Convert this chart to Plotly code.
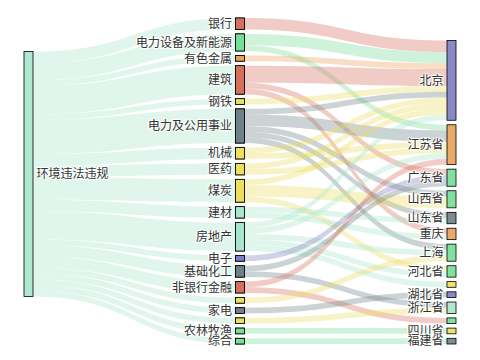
import plotly.graph_objects as go

# ---- data ----
root = "环境违法违规"
industries = ["银行", "电力设备及新能源", "有色金属", "建筑", "钢铁", "电力及公用事业",
              "机械", "医药", "煤炭", "建材", "房地产", "电子", "基础化工", "非银行金融",
              "_y1", "家电", "_y2", "农林牧渔", "综合"]
provinces = ["北京", "江苏省", "广东省", "山西省", "山东省", "重庆", "上海", "河北省",
             "_yR", "湖北省", "浙江省", "_gR", "四川省", "福建省"]

# industry -> province flows
flow_src = ["银行", "电力设备及新能源", "电力设备及新能源", "有色金属",
            "建筑", "建筑", "建筑", "钢铁",
            "电力及公用事业", "电力及公用事业", "电力及公用事业", "电力及公用事业", "电力及公用事业",
            "机械", "机械", "医药", "医药",
            "煤炭", "煤炭", "煤炭",
            "建材", "建材",
            "房地产", "房地产", "房地产", "房地产", "房地产",
            "电子", "基础化工", "基础化工", "非银行金融", "非银行金融",
            "_y1", "家电", "_y2", "农林牧渔", "综合"]
flow_tgt = ["北京", "北京", "江苏省", "北京",
            "北京", "广东省", "重庆", "北京",
            "北京", "江苏省", "山西省", "山东省", "上海",
            "北京", "江苏省", "北京", "江苏省",
            "北京", "山西省", "河北省",
            "山东省", "重庆",
            "北京", "江苏省", "上海", "河北省", "_yR",
            "广东省", "广东省", "浙江省", "江苏省", "_gR",
            "上海", "湖北省", "浙江省", "四川省", "福建省"]
flow_val = [2, 2, 1, 1,
            3, 1, 1, 1,
            1, 2, 1, 1, 1,
            1, 1, 1, 1,
            1, 2, 1,
            1, 1,
            1, 1, 1, 1, 1,
            1, 1, 1, 1, 1,
            1, 1, 1, 1, 1]

palette = {
    "red": (214, 110, 92),
    "green": (118, 222, 150),
    "orange": (232, 160, 88),
    "yellow": (236, 222, 92),
    "gray": (110, 128, 134),
    "teal": (166, 228, 204),
    "purple": (124, 124, 192),
}
node_color_names = {
    root: "teal",
    "银行": "red", "电力设备及新能源": "green", "有色金属": "orange", "建筑": "red",
    "钢铁": "yellow", "电力及公用事业": "gray", "机械": "yellow", "医药": "yellow",
    "煤炭": "yellow", "建材": "teal", "房地产": "teal", "电子": "purple",
    "基础化工": "gray", "非银行金融": "red", "_y1": "yellow", "家电": "gray",
    "_y2": "yellow", "农林牧渔": "green", "综合": "green",
    "北京": "purple", "江苏省": "orange", "广东省": "green", "山西省": "green",
    "山东省": "gray", "重庆": "orange", "上海": "green", "河北省": "green",
    "_yR": "yellow", "湖北省": "purple", "浙江省": "teal", "_gR": "green",
    "四川省": "yellow", "福建省": "gray",
}

# ---- layout settings ----
FIG_W, FIG_H = 480, 360
M_L, M_R, M_T, M_B = 16, 32, 10, 24
PAD, THICK = 4.5, 9


def rgba(name, a):
    r, g, b = palette[name]
    return f"rgba({r},{g},{b},{a})"


def label_of(n):
    return "" if n.startswith("_") else n


ind_total = {n: 0 for n in industries}
prov_total = {n: 0 for n in provinces}
for s, t, v in zip(flow_src, flow_tgt, flow_val):
    ind_total[s] += v
    prov_total[t] += v

W = FIG_W - M_L - M_R
H = FIG_H - M_T - M_B
total = sum(flow_val)
ky = min((H - (len(col) - 1) * PAD) / total for col in (industries, provinces))

# vertical positions (centres, px) derived from the values, keeping listed order
pos_y = {}
y = 0.0
for n in industries:
    h = ind_total[n] * ky
    pos_y[n] = y + h / 2
    y += h + PAD
span = sum(prov_total.values()) * ky + (len(provinces) - 1) * PAD
y = H - span
for n in provinces:
    h = prov_total[n] * ky
    pos_y[n] = y + h / 2
    y += h + PAD
pos_y[root] = sum(pos_y[n] * ind_total[n] for n in industries) / total

# two stages sharing the middle column
half = 0.5 + (THICK / 2) / W
dom_a = [0.0, half]
dom_b = [1.0 - half, 1.0]
wa = W * (dom_a[1] - dom_a[0])
wb = W * (dom_b[1] - dom_b[0])

node_style = dict(pad=PAD, thickness=THICK)
font = dict(family="Noto Sans CJK SC", size=12, color="#333")

# stage A: root -> industries
a_nodes = [root] + industries
a_idx = {n: i for i, n in enumerate(a_nodes)}
a_src = [a_idx[root]] * len(industries)
a_tgt = [a_idx[n] for n in industries]
a_val = [ind_total[n] for n in industries]
a_col = [rgba(node_color_names[root], 0.35)] * len(industries)
a_x = [(THICK / 2) / wa] + [1 - (THICK / 2) / wa] * len(industries)
a_y = [pos_y[n] / H for n in a_nodes]

# stage B: industries -> provinces
b_nodes = industries + provinces
b_idx = {n: i for i, n in enumerate(b_nodes)}
b_src = [b_idx[s] for s in flow_src]
b_tgt = [b_idx[t] for t in flow_tgt]
b_col = [rgba(node_color_names[s], 0.35) for s in flow_src]
b_x = [(THICK / 2) / wb] * len(industries) + [1 - (THICK / 2) / wb] * len(provinces)
b_y = [pos_y[n] / H for n in b_nodes]
b_labels = [""] * len(industries) + [label_of(n) for n in provinces]

fig = go.Figure()
fig.add_trace(go.Sankey(
    domain=dict(x=dom_a, y=[0, 1]),
    arrangement="fixed",
    node=dict(label=[label_of(n) for n in a_nodes],
              color=[rgba(node_color_names[n], 0.9) for n in a_nodes],
              line=dict(color=[rgba(node_color_names[n], 1.0) for n in a_nodes], width=0.8),
              x=a_x, y=a_y, **node_style),
    link=dict(source=a_src, target=a_tgt, value=a_val, color=a_col),
    textfont=font,
))
fig.add_trace(go.Sankey(
    domain=dict(x=dom_b, y=[0, 1]),
    arrangement="fixed",
    node=dict(label=b_labels,
              color=[rgba(node_color_names[n], 0.9) for n in b_nodes],
              line=dict(color=[rgba(node_color_names[n], 1.0) for n in b_nodes], width=0.8),
              x=b_x, y=b_y, **node_style),
    link=dict(source=b_src, target=b_tgt, value=flow_val, color=b_col),
    textfont=font,
))
fig.update_layout(width=FIG_W, height=FIG_H,
                  margin=dict(l=M_L, r=M_R, t=M_T, b=M_B),
                  paper_bgcolor="white", font=dict(family="Noto Sans CJK SC"))
fig.write_html("out.html")
